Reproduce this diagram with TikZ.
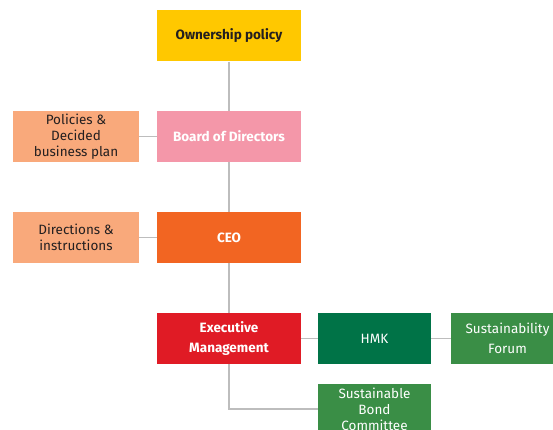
\documentclass[tikz,border=0pt]{standalone}
\usepackage{fontspec}
\setmainfont{Fira Sans}
\usepackage{tikz}

\definecolor{gold}{HTML}{FFC800}
\definecolor{rose}{HTML}{F497A9}
\definecolor{peach}{HTML}{F9A97B}
\definecolor{flame}{HTML}{F26522}
\definecolor{crimson}{HTML}{E01B25}
\definecolor{pine}{HTML}{007347}
\definecolor{leaf}{HTML}{3A8E46}
\definecolor{wire}{HTML}{BDBDBD}
\definecolor{ink}{HTML}{231F20}

\begin{document}
\begin{tikzpicture}
   [
    x=1pt, y=-1pt,
    every node/.style={inner sep=2pt, font=\fontsize{13.5}{16}\selectfont},
    boks/.style={rectangle, align=center, minimum height=51pt},
    hoved/.style={boks, minimum width=144pt, font=\fontsize{13.5}{16}\selectfont\bfseries},
    side/.style={boks, minimum width=126pt, fill=peach, text=ink},
    groen/.style={boks, minimum width=113pt, text=white},
    linje/.style={draw=wire, line width=1.6pt}
    ]

\useasboundingbox (0,0) rectangle (553,430);
\clip (0,0) rectangle (553,430);

% main column
\node[hoved, fill=gold, text=ink] (own) at (229,36) {Ownership policy};
\node[hoved, fill=rose, text=white] (board) at (229,136.5) {Board of Directors};
\node[hoved, fill=flame, text=white] (ceo) at (229,237.5) {CEO};
\node[hoved, fill=crimson, text=white,
      font=\fontsize{13.5}{20}\selectfont\bfseries] (exec) at (229,338.5) {Executive\\Management};

% left side
\node[side] (pol) at (76,136.5) {Policies \&\\Decided\\business plan};
\node[side] (dir) at (76,237.5) {Directions \&\\instructions};

% right side
\node[groen, fill=pine] (hmk) at (374.5,338.5) {HMK};
\node[groen, fill=leaf, font=\fontsize{13.5}{20}\selectfont] (forum) at (507.5,338.5) {Sustainability\\Forum};
\node[groen, fill=leaf] (bond) at (374.5,409) {Sustainable\\Bond\\Committee};

% connectors
\draw[linje] (own) -- (board);
\draw[linje] (board) -- (ceo);
\draw[linje] (ceo) -- (exec);
\draw[linje] (pol) -- (board);
\draw[linje] (dir) -- (ceo);
\draw[linje] (exec) -- (hmk);
\draw[linje] (hmk) -- (forum);
\draw[linje] (exec.south) |- (bond.west);

\end{tikzpicture}
\end{document}
